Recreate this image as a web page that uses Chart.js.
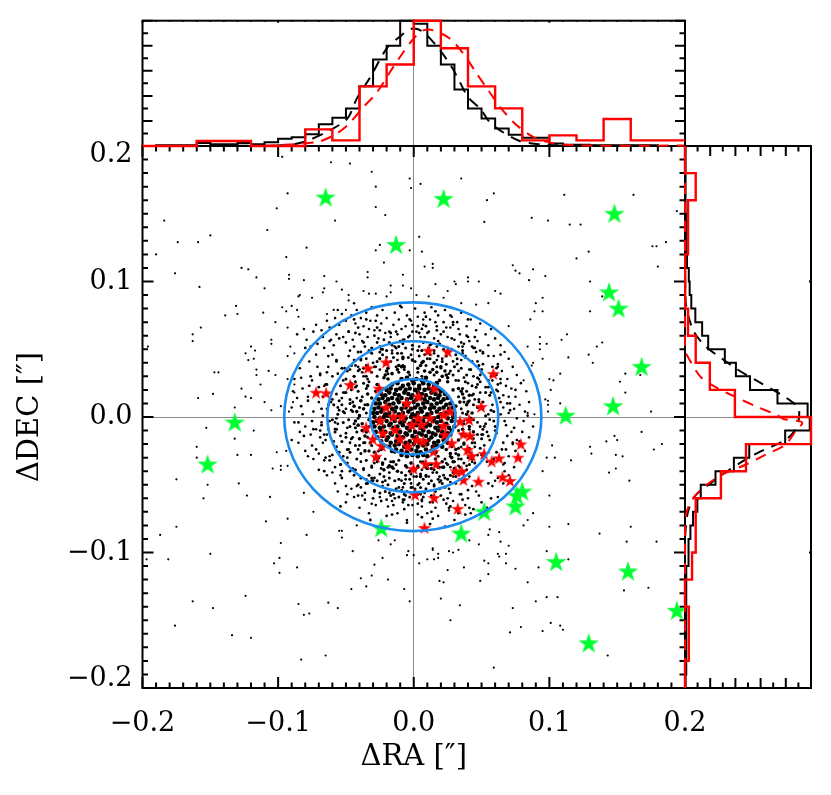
<!DOCTYPE html>
<html><head><meta charset="utf-8">
<style>html,body{margin:0;padding:0;background:#fff}canvas{position:absolute;left:0;top:0}</style>
<script src="https://cdn.jsdelivr.net/npm/chart.js@4"></script>
</head><body>
<canvas id="main" width="831" height="795"></canvas>
<canvas id="top" width="831" height="795"></canvas>
<canvas id="right" width="831" height="795"></canvas>
<script>
// ---- data (offsets in milli-arcsec, flat x,y lists) ----
const sparseDots=[-97,192,-61,188,-47,187,-31,181,-3,176,-28,170,-2,169,-93,165,-101,154,-28,155,-21,149,-58,145,-184,145,-108,138,-150,134,-174,129,-159,129,-79,125,-25,127,-28,123,-3,123,-190,120,-94,118,-127,110,-122,109,-22,114,-176,106,-34,107,-92,105,-92,102,-116,103,-66,104,-34,103,-8,105,-81,101,-57,100,-158,96,-110,95,-17,97,-8,97,-2,95,-66,95,-53,94,-67,92,-37,93,-33,91,-28,91,-17,92,-84,90,-85,89,-75,88,-48,90,-20,89,-131,82,-97,81,-90,82,-48,86,-86,79,-94,78,-59,79,-50,79,-130,76,-111,77,-139,75,-85,74,-102,70,-64,76,-157,66,-163,61,-163,56,-93,66,-105,57,-196,52,-120,52,-117,49,-124,47,-122,42,-118,43,-105,54,-91,52,-93,45,-88,47,-147,33,-144,33,-116,35,-116,31,-107,34,-102,31,-127,21,-113,24,-93,28,-88,24,-148,17,-159,14,-124,15,-120,14,-110,11,-132,7,-105,5,-98,8,-88,18,-89,11,-92,4,
5,172,35,176,59,165,54,160,111,164,162,164,194,152,87,147,99,145,52,144,115,142,123,142,4,133,6,122,129,122,176,126,179,126,186,129,120,117,8,111,14,113,14,110,73,112,75,108,78,106,88,109,97,104,85,101,180,111,130,100,30,100,31,98,40,103,40,100,48,100,16,98,60,93,64,91,25,93,11,89,2,90,22,88,139,89,95,88,90,84,35,84,46,83,55,84,130,78,89,78,95,78,86,72,70,67,93,59,113,61,109,57,139,55,135,52,98,54,93,54,93,50,84,52,129,46,114,44,95,43,132,40,88,40,87,38,156,32,167,31,108,32,100,28,103,27,152,26,81,27,101,20,156,18,97,13,99,12,99,9,99,4,175,4,108,10,84,3,89,2,
-153,-8,-118,-10,-132,-16,-160,-22,-101,-26,-160,-30,-130,-28,-120,-28,-94,-25,-104,-38,-98,-36,-98,-39,-93,-36,-175,-46,-152,-50,-129,-49,-155,-60,-123,-58,-106,-59,-81,-56,-74,-70,-109,-77,-93,-75,-175,-81,-187,-87,-79,-87,-98,-93,-55,-84,-53,-84,-53,-89,-42,-80,-150,-101,-181,-105,-197,-105,-99,-104,-103,-108,-99,-115,-86,-111,-45,-99,-26,-91,-17,-94,-14,-91,-4,-99,-5,-102,-23,-104,-29,-109,-31,-117,-39,-119,-19,-120,-35,-125,-46,-127,-7,-127,-3,-136,-124,-132,-163,-136,-85,-138,-63,-137,-148,-141,-56,-141,-81,-146,-77,-145,-176,-154,-134,-161,-120,-163,-65,-176,-83,-179,
168,-11,148,-14,150,-17,142,-18,183,-20,177,-24,130,-22,131,-27,149,-28,154,-29,102,-21,98,-30,104,-30,116,-32,149,-38,144,-41,95,-40,159,-47,100,-58,88,-71,84,-76,81,-80,100,-81,114,-79,160,-81,137,-86,157,-92,179,-92,98,-99,114,-105,92,-111,84,-122,173,-126,155,-128,98,-133,106,-133,90,-136,73,-141,20,-134,34,-139,27,-150,101,-152,108,-154,110,-157,79,-155,71,-159,95,-158,143,-176,59,-185,70,-95,68,-101,68,-108,75,-112,55,-108,52,-106,55,-116,49,-121,37,-111,25,-113,19,-121,22,-122,14,-97,14,-98,18,-101,26,-99,29,-100,33,-98,10,-105,15,-105,4,-108,0,-102,48,-94,41,-91,64,-92,63,-85,56,-83,55,-87,62,-101,63,-103,18,-104];
const ringDots=[-86,61,-81,65,-79,57,-74,63,-72,68,-71,54,-67,59,-64,71,-62,66,-61,57,-58,73,-57,61,-55,68,-53,76,-52,59,-50,71,-48,63,-46,75,-45,57,-43,69,-42,79,-40,61,-39,73,-37,67,-35,77,-34,59,-32,71,-31,81,-29,64,-27,75,-26,58,-24,69,-23,79,-21,62,-20,73,-18,83,-17,59,-15,68,-14,77,-12,61,-11,72,-9,81,-8,57,-6,67,-5,75,-3,60,-2,71,1,80,2,63,3,74,5,59,7,68,8,77,10,62,12,72,13,81,15,58,17,67,18,75,20,61,22,70,23,79,25,59,27,66,28,74,30,57,32,70,34,61,35,77,37,54,39,67,40,59,42,72,44,51,46,64,47,56,49,69,51,48,53,61,55,53,57,65,59,45,60,58,62,39,64,53,65,34,67,48,69,28,70,43,72,21,73,37,75,15,76,31,78,9,79,25,82,4,83,19,85,11,81,-3,
-60,46,-63,37,-66,51,-69,32,-72,46,-75,27,-77,41,-80,51,-82,21,-84,36,-86,14,-88,28,-90,7,-66,23,-70,11,-74,4,-78,15,-82,2,-64,6,-68,-4,-72,-9,-76,-13,-80,-7,-84,-11,-88,-4,-90,-17,-64,-13,-67,-19,-70,-27,-75,-21,-80,-25,-85,-19,-62,-29,-66,-32,-70,-39,-74,-31,-78,-29,-60,-41,-64,-43,-58,-49,-54,-43,-50,-51,-46,-53,-42,-51,-56,-55,-50,-63,-44,-59,-40,-67,-36,-61,-33,-71,-28,-65,-25,-59,-20,-73,-16,-62,-12,-71,-8,-61,-5,-76,-1,-65,3,-72,6,-61,
10,-71,14,-63,18,-73,22,-61,26,-69,30,-76,34,-57,38,-65,42,-71,46,-55,50,-63,54,-67,58,-51,62,-59,66,-49,70,-43,74,-37,78,-31,82,-25,85,-15,88,-7,70,-29,66,-35,62,-45,72,-11,68,-6,76,-1,80,-11,84,1,66,7,70,15,74,6,62,19,58,27,64,25,68,23,62,37,-83,29,-76,52,-68,64,-56,79,-44,84,-71,37,-89,19,-59,53,-47,49,-52,71,-33,65,-38,56,-18,63,-9,65,7,72,16,70,24,66,33,65,41,56,46,48,55,45,61,31,66,16,70,3,-63,-9,-69,-15,-58,-37,-49,-57,-38,-58,-31,-64,-19,-66,-7,-68,6,-66,16,-67,29,-62,40,-60,48,-58,60,-47,67,-40,73,-20,76,-17];
const scatterDots=[-47,35,52,-21,-13,63,23,-52,66,-19,-44,-43,8,59,-61,11,38,44,-29,-55,57,30,-6,-58,-52,27,17,52,44,-39,-68,-6,31,-49,-33,48,60,-10,-9,-47,49,18,-56,-26,3,67,41,35,-22,57,-39,-52,71,5,-71,17,12,-63,54,-33,-48,45,28,58,-59,-18,35,-57,-16,49,63,14,-41,34,-1,-52,47,41,-65,24,19,-44,-27,66,56,-2,-36,52,-54,-35,8,46,68,-24,-74,-9,26,-67,43,52,-50,6,-3,72,61,-26,-43,62,33,34,-62,-32,14,-75,55,22,-25,43,47,-48,-78,12,39,60,-14,52,-57,42,4,-49,-69,31,27,-56,-35,-46,64,28,22,63,-56,-5,11,-44,51,47,-7,57,-42,23,29,70,-66,-40,50,-13,-37,55,6,-62,-72,-24,58,37,15,47,-28,71,40,-54,-51,18,73,-19,-18,-56,69,10,-64,33,-31,-36,9,74,45,59,-60,-28,-16,-72,36,52,-53,-45,75,-25,-1,63,64,2,-46,22,33,-71,-25,52,-83,8,20,-58,57,-41,-8,54,-41,66,-76,30,48,28,31,-40,-65,-17,3,-64,-37,-39,61,20,41,-67,-81,-14,67,-34,27,75,-31,-47,-63,45,12,-79,78,-18,-55,58,9,67,49,49,-67,1,-11,-52,
41,-26,-35,38,-18,-41,48,11,-47,-19,21,43,-6,-46,37,29,-43,22,14,-41,52,-7,-30,40,27,-37,-51,3,6,49,44,-16,-24,-38,32,39,-50,-12,-12,42,19,-48,47,24,-39,-33,0,-44,-44,30,55,2,29,-44,-20,44,40,-30,-54,-14,10,43,-34,28,33,-36,-53,14,24,48,-8,-52,51,-13,-46,5,16,-55,-28,37,37,-40,43,16,-41,-24,-1,50,26,-53,-56,7,45,-22,-29,-45,12,53,-38,33,49,31,-49,-30,5,-57,-16,53,35,42,-58,-4,20,-47,-43,38,53,22,-24,50];
const fillDots=[37,-3,-42,14,9,-44,-16,47,51,6,-29,-34,26,32,-49,-8,4,52,33,-31,-37,30,15,-50,45,13,-21,-47,-8,38,-55,5,22,-43,40,25,-45,-15,1,-53,-25,35,54,-11,-33,-25,12,46,35,-22,-52,18,-2,-49,29,41,-40,-21,47,-4,-17,-54,-31,33,20,36,43,-33,-46,20,8,-56,-10,56,58,9,-36,-19,31,27,-57,-1,-23,-51,17,42,39,-36,-48,-24,24,-34,-4,59,44,30,-41,37,60,-7,-30,-47,6,-39,-60,13,-14,-60,36,47,27,-48,-51,36,50,-28,-27,55,-7,-61,57,18,-44,42,13,-58,-58,-9,-35,43,33,52,46,-37,-62,-3,4,62,-20,-61,56,-17,-39,48,25,-60,-63,9,61,-12,-17,62,-34,-49,41,-44,18,56,-52,-29,-64,24,64,11,-4,-65,-24,-62,35,55,51,39,-56,32,6,65,24,-64,-66,-13,59,-31,-47,-40,67,-3,-30,-60,-29,60,11,63,43,-51,-67,15,-8,-63,50,33,-44,52,62,24,-53,-40,-15,-65,-60,30,36,-61,17,64,65,-24,-68,6,-36,-56,-1,68,-57,41,69,-14,27,-66,45,51,-25,64,-69,-10,61,36,-50,55,-41,-58,13,-70,55,-49,29,68,-70,22,71,10,6,-74,-48,63,-5,-78,38,-72,-65,-30,74,-8,-32,-76,-75,-3,23,-81,64,46,-54,-66,-20,-82,40,72,-62,56,75,20,44,-68,-35,72,-77,23,16,78,-10,82,57,-60,-44,72,-85,-4,50,-72];
const midDots=[-11,33,-7,35,-3,31,3,33,6,30,9,38,15,31,17,37,-13,37,-19,32,-21,39,-27,30,-29,37,-8,43,-4,44,1,41,4,45,10,47,12,43,18,45,21,41,24,45,30,37,32,43,-12,47,-17,41,-20,49,-25,43,-27,41,-31,47,-37,36,-39,42,-6,51,-1,53,3,49,7,55,11,51,15,49,19,54,22,50,28,50,31,46,36,49,38,45,43,41,-11,52,-13,51,-18,55,-23,50,-25,48,-31,51,-33,49,-39,43,-41,48,-46,38,-49,34,-44,30,-40,35,-35,30,-33,26,-37,25,-43,26,-46,25,-50,28,-53,36,-54,23,-23,46,-15,44,-9,47,-2,46,6,49,13,54,24,39,27,34,
35,36,39,31,42,35,47,29,29,31,33,27,38,26,43,23,46,22,49,26,55,27,50,35,48,38,53,18,56,16,48,13,44,17,39,19,36,21,51,11,57,5,59,4,47,7,44,9,40,4,37,11,33,15,41,12,35,6,
-35,21,-38,15,-41,19,-47,13,-50,18,-55,12,-57,17,-36,9,-40,7,-45,4,-47,10,-52,4,-56,2,-59,9,-35,3,-41,-1,-44,-5,-48,-2,-52,-4,-57,-9,-60,-2,-33,-7,-38,-10,-42,-11,-47,-7,-50,-15,-53,-18,-58,-11,-34,-15,-37,-19,-43,-21,-46,-16,-49,-24,-55,-26,-57,-22,-45,11,-39,12,-53,9,-43,-8,
-31,-21,-33,-25,-39,-27,-42,-31,-47,-26,-49,-34,-54,-35,-26,-25,-29,-31,-35,-32,-37,-38,-43,-39,-45,-38,-21,-31,-27,-33,-31,-37,-33,-43,-39,-45,-41,-50,-17,-33,-23,-35,-25,-42,-31,-45,-35,-49,-13,-35,-19,-37,-22,-44,-27,-47,-29,-54,-11,-32,-15,-38,-18,-45,-23,-48,-25,-56,-5,-37,-9,-41,-14,-47,-19,-50,-21,-55,-2,-34,-6,-43,-11,-46,-13,-53,-17,-58,3,-36,-2,-42,-7,-49,-9,-54,-15,-57,7,-33,2,-44,-3,-46,-5,-55,-11,-59,11,-35,5,-42,3,-50,-2,-52,-7,-57,13,-35,9,-43,7,-46,1,-55,-3,-59,19,-37,15,-39,11,-49,5,-52,3,-57,23,-31,17,-41,13,-47,9,-53,7,-59,27,-29,21,-37,18,-46,15,-51,31,-27,25,-35,23,-45,19,-53,33,-23,30,-33,27,-43,21,-49,37,-19,35,-31,29,-41,25,-46,43,-19,39,-26,34,-37,31,-44,47,-13,41,-23,37,-34,33,-42,51,-9,45,-19,43,-31,39,-39,53,-5,50,-16,47,-28,41,-35,59,-3,55,-14,49,-23,45,-34,37,-5,41,-9,44,-2,49,-7,53,1,35,-13,-14,-26,5,-33,18,-29,28,-22,33,-10,36,3];
const edgeDots=[31,8,-28,19,12,33,-33,-2,24,-24,-6,-36,36,-9,-19,28,5,38,-37,6,29,20,-24,-24,16,-31,33,-17,-12,35,39,2,-31,14,21,30,-3,-40,-36,-14,8,34,27,-27,-21,31,37,14,-38,-10,3,36,-15,-33,34,11,-27,24,18,-37,-40,1,25,26,-9,37,41,-7,-30,-17,10,-38,-34,17,14,35,31,-24,-4,33,-41,-6,23,34,-18,-36,36,17,-26,-30,6,40,38,-14,-34,9,19,27,-22,29,-2,-34,33,21,-39,12,9,-37,28,-30,-16,32,-35,-11,39,9,21,-33,-29,-26,-7,37,24,31,42,-1,-25,21,1,-39,-38,-5,-20,34,35,19,13,-38,-32,-19,-11,38,40,11,-42,4,17,33,29,-33,-27,-31,-1,42,37,-20,3,-37,-43,-3,25,29,-16,-37,22,-37,41,16,-23,-34,-34,23,7,41,44,-11,-12,-40,-40,-16,20,37,33,-28,-44,8,5,-44,43,3,-19,36,15,40,-22,-39,30,-38,-36,-25,-8,44];
const coreDots=[-9,28,-5,29,-1,27,2,28,6,27,9,29,
-16,24,-12,25,-8,23,-4,24,0,25,4,23,7,25,11,24,15,23,17,25,
-20,20,-17,21,-13,20,-10,21,-6,20,-3,21,1,20,4,21,8,20,11,21,14,20,18,21,20,19,
-24,17,-21,16,-18,18,-14,17,-11,16,-7,18,-4,17,-1,16,3,18,6,17,9,16,13,18,16,17,19,16,23,17,
-26,13,-23,14,-19,13,-16,14,-12,13,-9,14,-5,13,-2,14,2,13,5,14,8,13,12,14,15,13,18,14,22,13,25,14,
-28,10,-25,10,-21,11,-18,9,-15,10,-11,11,-7,9,-4,10,0,11,3,9,7,10,10,11,13,9,17,10,20,11,24,9,27,10,
-29,6,-26,7,-23,6,-20,7,-16,6,-13,7,-9,6,-6,7,-2,6,1,7,5,6,8,7,12,6,15,7,19,6,22,7,26,6,29,7,
-30,3,-27,3,-24,4,-21,2,-18,3,-14,4,-11,2,-8,3,-4,4,-1,2,3,3,6,4,10,2,13,3,17,4,20,2,24,3,27,4,30,3,
-29,0,-25,-1,-22,0,-19,1,-16,-1,-12,0,-9,1,-6,-1,-2,0,1,1,4,-1,8,0,11,1,15,-1,18,0,22,1,25,-1,29,0,
-30,-4,-27,-3,-24,-4,-20,-3,-17,-5,-14,-3,-10,-4,-7,-3,-3,-5,0,-3,3,-4,7,-3,10,-5,14,-3,17,-4,20,-3,24,-5,28,-3,
-29,-7,-25,-8,-22,-7,-18,-6,-15,-8,-12,-7,-8,-6,-5,-8,-1,-7,2,-6,5,-8,9,-7,12,-6,16,-8,19,-7,23,-6,26,-8,30,-7,
-28,-11,-24,-10,-21,-11,-17,-12,-13,-10,-10,-11,-6,-12,-3,-10,1,-11,4,-12,7,-10,11,-11,14,-12,18,-10,21,-11,25,-12,28,-10,
-27,-15,-23,-14,-19,-15,-16,-13,-12,-14,-8,-15,-5,-13,-1,-14,2,-15,6,-13,9,-14,13,-15,16,-13,20,-14,24,-15,27,-13,
-24,-18,-20,-17,-17,-19,-13,-18,-10,-17,-6,-19,-3,-18,1,-17,4,-19,8,-18,11,-17,15,-19,18,-18,22,-17,25,-19,
-22,-21,-18,-22,-14,-21,-11,-20,-7,-22,-4,-21,0,-20,3,-22,7,-21,10,-20,14,-22,17,-21,21,-22,
-16,-25,-13,-24,-9,-25,-5,-26,-2,-24,2,-25,5,-26,9,-24,13,-25,16,-26,
-9,-28,-5,-29,-1,-28,3,-29,7,-28,10,-29];
const greenStars=[-65,162,22,161,-13,127,148,150,144,92,151,80,168,37,112,1,147,8,-132,-4,-152,-35,80,-55,76,-58,75,-66,52,-70,35,-86,-24,-82,105,-107,158,-114,194,-143,129,-167];
const redStars=[10.8,48.9,25.1,48.2,58.7,31.7,-20.4,40.3,-33.7,35.9,-46.9,23.6,-72,17.9,-64.6,17.5,-25.6,20.9,15.2,21.1,3.4,15,49.7,7.4,-5.2,10.1,-20.4,6.9,26.8,3.9,21.9,1.5,-15,0.2,-8.8,0.2,3.4,-1,12,-1,-24.8,-2.7,-35.1,-7.9,-1.5,-5.9,5.9,-5.9,21.9,-6.6,34.2,-3.4,40.8,-2.2,-13.8,-9.6,-22.9,-12,-30.2,-16.5,-10.1,-16.5,2.2,-17,7.1,-18.2,-4.4,-21.9,-23.6,-21.4,23.1,-13.3,36.6,-12.8,41.5,-14,28,-19.4,14.5,-25.6,39.6,-24.3,42.8,-28.8,51.9,-27.3,-27.8,-29.3,57.5,-32.9,62.9,-30.5,78.9,-20.2,76.9,-30,8.8,-34.7,16.5,-34.7,-0.2,-38.3,31,-40.1,35.4,-40.3,36.6,-46.5,47.7,-47.7,65.4,-44.5,71,-47.2,1,-57.5,15,-59.7,32.4,-67.8,7.9,-81.9];
// ellipse semi-axes (arcsec): [a in RA, b in DEC]
const ellipseAxes=[[0.0316,0.0278],[0.0630,0.0557],[0.0948,0.0844]];
const ellipseCentre=[-0.0007,0.0002];
// histograms: bins from -0.2 to 0.2
const topBlack=[0,.005,.005,.005,.024,.013,.013,.024,.013,.03,.058,.07,.093,.173,.226,.30,.476,.69,.80,1.0,.976,.80,.65,.45,.30,.22,.14,.09,.066,.066,.02,.01,.01,.005,.005,.005,.005,.005,0,0];
const topRed=[0,0,.04,.04,0,0,.133,.045,.476,.65,1.0,.78,.476,.30,.045,.085,.045,.215,.045,.045];
const rightBlack=[.005,.008,.008,.008,.01,.01,.01,.012,.012,.024,.03,.043,.064,.098,.125,.242,.388,.51,.795,.99,.973,.734,.516,.404,.316,.184,.136,.082,.05,.037,.03,.016,.01,.008,.008,.006,.006,.005,.004,.002];
const rightRed=[0,.03,.03,0,.056,.085,.085,.285,.484,1.0,.396,.197,.085,.024,.005,0,.024,.024,.085,0];
// dashed fits: offset, level
const topBlackFitX=[-.2,-.12,-.091,-.079,-.062,-.049,-.042,-.032,-.020,-.010,-.0015,.007,.0194,.028,.034,.040,.049,.056,.0636,.078,.093,.105,.2];
const topBlackFitY=[0,.002,.01,.04,.125,.218,.378,.55,.777,.875,.936,.91,.763,.63,.51,.39,.298,.19,.125,.04,.013,.005,0];
const topRedFitX=[-.11,-.0715,-.059,-.049,-.037,-.027,-.0175,-.0076,-.0002,.0071,.0145,.0268,.0366,.0465,.055,.0637,.0747,.088,.1005,.118,.2];
const topRedFitY=[0,.032,.085,.165,.311,.43,.59,.75,.856,.923,.923,.856,.737,.577,.444,.311,.178,.072,.027,.005,.003];
const rightBlackFitY=[-.2,-.11,-.086,-.0698,-.0586,-.0502,-.0403,-.0317,-.0256,-.017,-.0096,-.0022,.0064,.0113,.0162,.0268,.0347,.0433,.0526,.0642,.085,.12,.2];
const rightBlackFitV=[0,0,.003,.024,.077,.184,.33,.476,.596,.795,.875,.902,.902,.848,.769,.569,.423,.29,.157,.064,.005,0,0];
const rightRedFitY=[-.2,-.087,-.071,-.06,-.0502,-.0415,-.0354,-.028,-.0206,-.0108,-.004,-.0015,.0015,.0076,.015,.021,.029,.042,.05,.2];
const rightRedFitV=[0,0,.011,.064,.17,.316,.476,.636,.795,.875,.93,.782,.729,.569,.396,.263,.13,.037,0,0];
const xTickLabels=['\u22120.2','\u22120.1','0.0','0.1','0.2'];
const yTickLabels=[['\u22120.2',''],'\u22120.1','0.0','0.1',['','0.2']];
const xTitle='\u0394RA [\u2033]', yTitle='\u0394DEC [\u2033]';

// ---- helpers ----
const ink='#000';
const LEFT=142.5,RIGHT=685,TOP=146,BOTTOM=688,PTOP=20.7,PRIGHT=811;
const pts=(f)=>{const o=[];for(let i=0;i<f.length;i+=2)o.push({x:f[i]/1000,y:f[i+1]/1000});return o;};
const star=(R,color)=>{const c=document.createElement('canvas');const s=Math.ceil(R*2+2);c.width=c.height=s;
  const g=c.getContext('2d');g.fillStyle=color;g.beginPath();
  for(let i=0;i<10;i++){const r=i%2?R*0.382:R,a=-Math.PI/2+i*Math.PI/5;g.lineTo(s/2+r*Math.cos(a),s/2+r*Math.sin(a)+R*0.05);}
  g.closePath();g.fill();return c;};
const binsH=(vals)=>{const w=0.4/vals.length,o=[];vals.forEach((v,i)=>{o.push({x:-.2+i*w,y:v},{x:-.2+(i+1)*w,y:v});});return o;};
const binsV=(vals)=>{const w=0.4/vals.length,o=[];vals.forEach((v,i)=>{o.push({x:v,y:-.2+i*w},{x:v,y:-.2+(i+1)*w});});return o;};
const zip=(xs,ys)=>xs.map((x,i)=>({x,y:ys[i]}));
const hist=(data,color,w)=>({data,showLine:true,borderColor:color,borderWidth:w,pointRadius:0,tension:0,clip:false,borderJoinStyle:'miter'});
const fit=(data,color,w)=>({data,showLine:true,borderColor:color,borderWidth:w,pointRadius:0,tension:0.3,borderDash:[11,8],clip:false});
const zeroGrid={color:c=>Math.abs(c.tick.value)<1e-9?'#8c8c8c':'rgba(0,0,0,0)',lineWidth:1,drawTicks:false};

const framePlugin={id:'frame',beforeDatasetsDraw(chart,args,o){
  const {ctx,chartArea:a,scales:{x,y}}=chart;ctx.save();ctx.strokeStyle=ink;ctx.lineWidth=2;
  ctx.strokeRect(a.left,a.top,a.right-a.left,a.bottom-a.top);
  ctx.beginPath();
  const n=Math.round((x.max-x.min)/o.xStep);
  for(let i=0;i<=n;i++){const p=x.getPixelForValue(x.min+i*o.xStep),k=i%o.xEvery===0?1:0;
    ctx.moveTo(p,a.bottom);ctx.lineTo(p,a.bottom-o.bottom[k]);ctx.moveTo(p,a.top);ctx.lineTo(p,a.top+o.top[k]);}
  const m=Math.round((y.max-y.min)/o.yStep);
  for(let i=0;i<=m;i++){const p=y.getPixelForValue(y.min+i*o.yStep),k=i%o.yEvery===0?1:0;
    ctx.moveTo(a.left,p);ctx.lineTo(a.left+o.left[k],p);ctx.moveTo(a.right,p);ctx.lineTo(a.right-o.right[k],p);}
  ctx.stroke();ctx.restore();}};
const ellipsePlugin={id:'ellipses',afterDatasetsDraw(chart){
  const {ctx,scales:{x,y}}=chart;ctx.save();ctx.strokeStyle='#1c8cf0';ctx.lineWidth=2.6;
  ellipseAxes.forEach(([ea,eb])=>{const cx=x.getPixelForValue(ellipseCentre[0]),cy=y.getPixelForValue(ellipseCentre[1]);
    ctx.beginPath();ctx.ellipse(cx,cy,Math.abs(x.getPixelForValue(ellipseCentre[0]+ea)-cx),Math.abs(y.getPixelForValue(ellipseCentre[1]+eb)-cy),0,0,Math.PI*2);ctx.stroke();});
  ctx.restore();}};
const base=(padding)=>({responsive:false,animation:false,layout:{padding},events:[]});
const common={legend:{display:false},tooltip:{enabled:false}};
const font={family:'"DejaVu Serif"',size:27};
const titleFont={family:'"DejaVu Serif"',size:29};
const dots=(list,r,order)=>({data:pts(list),pointRadius:r,backgroundColor:ink,borderWidth:0,order});

// ---- main panel ----
new Chart(document.getElementById('main'),{type:'scatter',plugins:[framePlugin,ellipsePlugin],
 data:{datasets:[
  {data:pts(greenStars),pointStyle:star(10.8,'#00ff30'),pointRadius:11,order:1},
  {data:pts(redStars),pointStyle:star(7,'#ff0000'),pointRadius:7,order:2},
  dots(coreDots,2.3,3),dots(edgeDots,1.8,4),dots(midDots,1.5,5),dots(fillDots,1.4,6),dots(scatterDots,1.4,7),dots(ringDots,1.3,8),dots(sparseDots,1.1,9)]},
 options:{...base({left:0,top:TOP,right:831-RIGHT,bottom:0}),
  plugins:{...common,frame:{xStep:.01,xEvery:10,yStep:.01,yEvery:10,bottom:[5.5,11],top:[5.5,11],left:[5.5,11],right:[5.5,11]}},
  scales:{
   x:{type:'linear',min:-.2,max:.2,grid:zeroGrid,border:{display:false},
     afterFit:s=>{s.height=795-BOTTOM;},
     ticks:{stepSize:.1,autoSkip:false,maxRotation:0,color:ink,font,padding:20,callback:(v,i)=>xTickLabels[i]},
     title:{display:true,text:xTitle,color:ink,font:titleFont,padding:{top:0,bottom:20}}},
   y:{type:'linear',min:-.2,max:.2,grid:zeroGrid,border:{display:false},
     afterFit:s=>{s.width=LEFT;},
     ticks:{stepSize:.1,autoSkip:false,color:ink,font:{...font,lineHeight:'18px'},padding:10,callback:(v,i)=>yTickLabels[i]},
     title:{display:true,text:yTitle,color:ink,font:titleFont,padding:{top:13,bottom:0}}}}}});

// ---- top panel ----
new Chart(document.getElementById('top'),{type:'scatter',plugins:[framePlugin],
 data:{datasets:[hist(binsH(topRed),'#ff0000',2.4),fit(zip(topRedFitX,topRedFitY),'#ff0000',2),hist(binsH(topBlack),ink,2),fit(zip(topBlackFitX,topBlackFitY),ink,2)]},
 options:{...base({left:LEFT,top:PTOP,right:831-RIGHT,bottom:795-TOP}),
  plugins:{...common,frame:{xStep:.01,xEvery:10,yStep:.1,yEvery:2,bottom:[0,0],top:[1,2],left:[5.5,10],right:[5.5,10]}},
  scales:{x:{type:'linear',min:-.2,max:.2,grid:zeroGrid,border:{display:false},afterFit:s=>{s.height=0;},ticks:{display:false,stepSize:.1}},
          y:{type:'linear',min:0,max:1,grid:{display:false},border:{display:false},afterFit:s=>{s.width=0;},ticks:{display:false}}}}});

// ---- right panel ----
new Chart(document.getElementById('right'),{type:'scatter',plugins:[framePlugin],
 data:{datasets:[hist(binsV(rightRed),'#ff0000',2.4),fit(zip(rightRedFitV,rightRedFitY),'#ff0000',2),hist(binsV(rightBlack),ink,2),fit(zip(rightBlackFitV,rightBlackFitY),ink,2)]},
 options:{...base({left:RIGHT,top:TOP,right:831-PRIGHT,bottom:795-BOTTOM}),
  plugins:{...common,frame:{xStep:.1,xEvery:2,yStep:.01,yEvery:10,bottom:[5.5,10],top:[5.5,10],left:[0,0],right:[1,2]}},
  scales:{x:{type:'linear',min:0,max:1,grid:{display:false},border:{display:false},afterFit:s=>{s.height=0;},ticks:{display:false}},
          y:{type:'linear',min:-.2,max:.2,grid:zeroGrid,border:{display:false},afterFit:s=>{s.width=0;},ticks:{display:false,stepSize:.1}}}}});
</script>
</body></html>
